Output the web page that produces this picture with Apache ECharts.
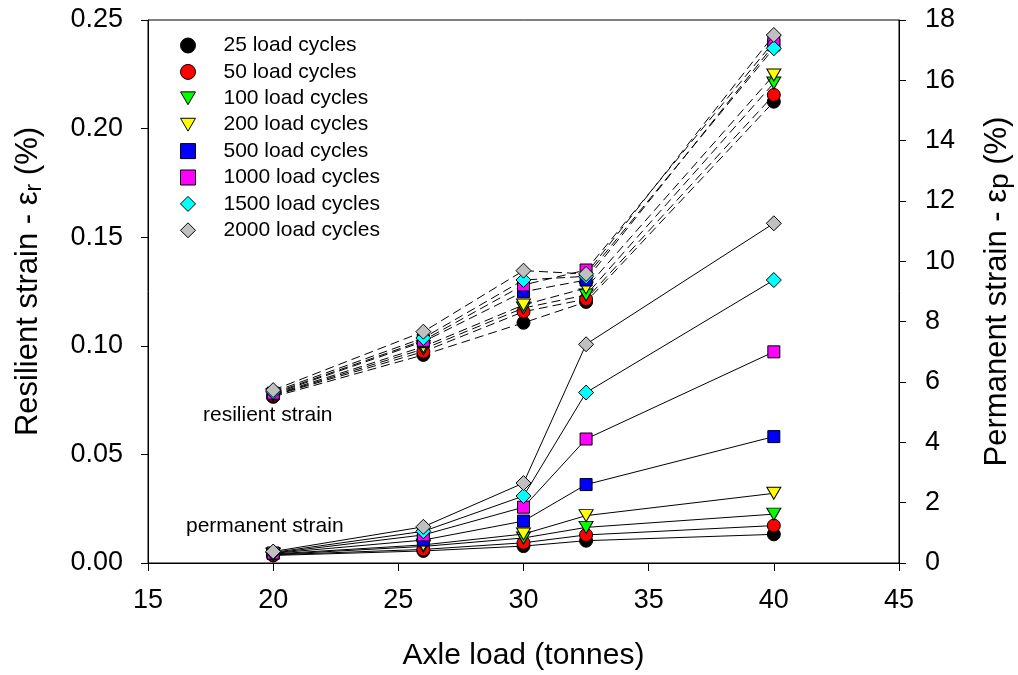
<!DOCTYPE html>
<html>
<head>
<meta charset="utf-8">
<script src="https://cdn.jsdelivr.net/npm/echarts@6/dist/echarts.min.js"></script>
<style>
  html, body { margin: 0; padding: 0; background: #fff; }
  #chart { width: 1018px; height: 675px; }
</style>
</head>
<body>
<div id="chart"></div>
<script>
// Axle loads tested (tonnes)
const axleLoad = [20, 26, 30, 32.5, 40];
const cycleNames = ['25 load cycles', '50 load cycles', '100 load cycles', '200 load cycles',
                    '500 load cycles', '1000 load cycles', '1500 load cycles', '2000 load cycles'];

// Resilient strain (%), left axis
const res25   = [0.0765, 0.0958, 0.1106, 0.1202, 0.2124];
const res50   = [0.0770, 0.0973, 0.1157, 0.1215, 0.2155];
const res100  = [0.0772, 0.0985, 0.1174, 0.1234, 0.2210];
const res200  = [0.0775, 0.0996, 0.1188, 0.1266, 0.2247];
const res500  = [0.0778, 0.1019, 0.1249, 0.1303, 0.2385];
const res1000 = [0.0782, 0.1025, 0.1280, 0.1349, 0.2400];
const res1500 = [0.0788, 0.1036, 0.1303, 0.1320, 0.2370];
const res2000 = [0.0796, 0.1065, 0.1346, 0.1331, 0.2431];

// Permanent strain (%), right axis
const perm25   = [0.25, 0.40, 0.56, 0.74, 0.95];
const perm50   = [0.27, 0.45, 0.67, 0.93, 1.24];
const perm100  = [0.28, 0.55, 0.83, 1.18, 1.62];
const perm200  = [0.30, 0.60, 0.96, 1.57, 2.31];
const perm500  = [0.32, 0.76, 1.39, 2.60, 4.19];
const perm1000 = [0.33, 0.93, 1.85, 4.11, 7.00];
const perm1500 = [0.35, 1.05, 2.22, 5.65, 9.38];
const perm2000 = [0.38, 1.20, 2.65, 7.25, 11.26];

const resilient = [res25, res50, res100, res200, res500, res1000, res1500, res2000];
const permanent = [perm25, perm50, perm100, perm200, perm500, perm1000, perm1500, perm2000];

// Marker styles per load-cycle count
const markerColors = ['#000000', '#ff0000', '#00ff00', '#ffff00', '#0000ff', '#ff00ff', '#00ffff', '#c0c0c0'];
const markerShapes = ['circle', 'circle', 'triangle', 'triangle', 'rect', 'rect', 'diamond', 'diamond'];
const markerRotate = [0, 0, 180, 180, 0, 0, 0, 0];
const markerSizes  = [13, 13, [14, 12], [14, 12], 12, 12, 15, 15];
const legendIcons  = ['circle', 'circle', 'path://M0,0L14,0L7,12Z', 'path://M0,0L14,0L7,12Z',
                      'rect', 'rect', 'diamond', 'diamond'];

const pair = arr => axleLoad.map((x, i) => [x, arr[i]]);

const series = [];
cycleNames.forEach((name, k) => {
  const common = {
    name: name,
    type: 'line',
    symbol: markerShapes[k],
    symbolSize: markerSizes[k],
    symbolRotate: markerRotate[k],
    itemStyle: { color: markerColors[k], borderColor: '#000', borderWidth: 1 },
    emphasis: { disabled: true },
    animation: false
  };
  series.push(Object.assign({}, common, {
    yAxisIndex: 0,
    data: pair(resilient[k]),
    lineStyle: { color: '#000', width: 1, type: [9, 5] },
    z: 2 + k
  }));
  series.push(Object.assign({}, common, {
    yAxisIndex: 1,
    data: pair(permanent[k]),
    lineStyle: { color: '#000', width: 1, type: 'solid' },
    z: 2 + k
  }));
});

const font = 'Arial, "Liberation Sans", sans-serif';

const chart = echarts.init(document.getElementById('chart'), null, { renderer: 'canvas' });
chart.setOption({
  animation: false,
  backgroundColor: '#fff',
  grid: {
    left: 148, right: 119, top: 20, bottom: 112,
    outerBoundsMode: 'none', containLabel: false,
    show: true, borderColor: '#000', borderWidth: 1, backgroundColor: 'transparent'
  },
  legend: {
    orient: 'vertical',
    left: 180,
    top: 35,
    padding: 0,
    itemWidth: 15,
    itemHeight: 15,
    itemGap: 5.4,
    selectedMode: false,
    textStyle: { fontFamily: font, fontSize: 21, color: '#000', padding: [0, 0, 0, 23] },
    data: cycleNames.map((name, k) => ({
      name: name,
      icon: legendIcons[k],
      itemStyle: { color: markerColors[k], borderColor: '#000', borderWidth: 1 }
    }))
  },
  xAxis: {
    type: 'value',
    min: 15, max: 45, interval: 5,
    name: 'Axle load (tonnes)',
    nameLocation: 'middle',
    nameGap: 78,
    nameTextStyle: { fontFamily: font, fontSize: 30, color: '#000' },
    axisLine: { show: true, onZero: false, lineStyle: { color: '#000', width: 1 } },
    axisTick: { show: true, inside: false, length: 8, lineStyle: { color: '#000' } },
    axisLabel: { margin: 24, fontFamily: font, fontSize: 27, color: '#000' },
    splitLine: { show: false }
  },
  yAxis: [
    {
      type: 'value',
      position: 'left',
      min: 0, max: 0.25, interval: 0.05,
      name: '{t|Resilient strain - ε}{s|r}{t| (%)}',
      nameLocation: 'middle',
      nameGap: 102,
      nameTextStyle: {
        padding: [0, 0, 0, 20],
        rich: {
          t: { fontFamily: font, fontSize: 31, color: '#000' },
          s: { fontFamily: font, fontSize: 23, color: '#000', padding: [12, 0, 0, 0] }
        }
      },
      axisLine: { show: true, lineStyle: { color: '#000', width: 1 } },
      axisTick: { show: true, length: 7, lineStyle: { color: '#000' } },
      axisLabel: { margin: 25, fontFamily: font, fontSize: 27, color: '#000',
                   formatter: v => v.toFixed(2) },
      splitLine: { show: false }
    },
    {
      type: 'value',
      position: 'right',
      min: 0, max: 18, interval: 2,
      name: '{t|Permanent strain - ε}{s|p}{t| (%)}',
      nameLocation: 'middle',
      nameGap: 82,
      nameRotate: 90,
      nameTextStyle: {
        rich: {
          t: { fontFamily: font, fontSize: 31, color: '#000' },
          s: { fontFamily: font, fontSize: 28, color: '#000', padding: [5, 0, 0, 0] }
        }
      },
      axisLine: { show: true, lineStyle: { color: '#000', width: 1 } },
      axisTick: { show: true, length: 7, lineStyle: { color: '#000' } },
      axisLabel: { margin: 26, fontFamily: font, fontSize: 27, color: '#000' },
      splitLine: { show: false }
    }
  ],
  graphic: [
    { type: 'text', left: 203, top: 405, silent: true,
      style: { text: 'resilient strain', fontFamily: font, fontSize: 21, fill: '#000' } },
    { type: 'text', left: 186, top: 516, silent: true,
      style: { text: 'permanent strain', fontFamily: font, fontSize: 21, fill: '#000' } }
  ],
  series: series
});
</script>
</body>
</html>
